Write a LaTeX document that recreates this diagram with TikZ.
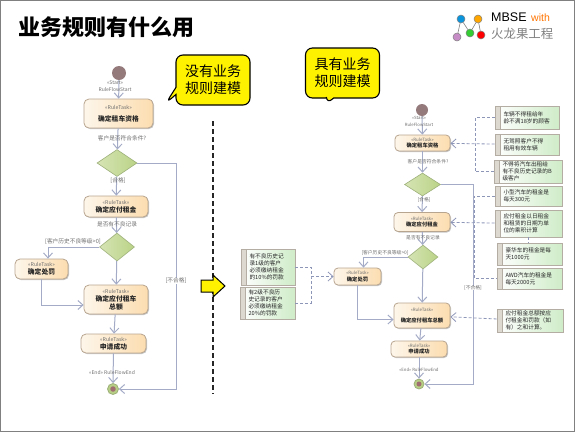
\documentclass[tikz,border=0pt]{standalone}
\usepackage{fontspec}
\setmainfont{Noto Sans CJK SC}
\newfontfamily\logofont{Liberation Sans}
\usetikzlibrary{arrows.meta, shapes.geometric, shapes.callouts, shadows}
\definecolor{flowline}{HTML}{A3ABC6}
\definecolor{duskline}{HTML}{8E96B8}
\definecolor{taskedge}{HTML}{B8A590}
\definecolor{taskleft}{HTML}{FDF6EA}
\definecolor{taskright}{HTML}{FCDDB0}
\definecolor{noteedge}{HTML}{B4ADA4}
\definecolor{noteright}{HTML}{CFECC8}
\definecolor{noteband}{HTML}{DDD8D0}
\definecolor{labelgray}{HTML}{6E6E6E}
\definecolor{startfill}{HTML}{957A7C}
\definecolor{gateedge}{HTML}{9DB07A}
\definecolor{gateleft}{HTML}{D6E4B4}
\definecolor{gateright}{HTML}{BAD387}
\definecolor{endfill}{HTML}{B7CF85}
\tikzset{
    taskbox/.style={draw=taskedge,line width=0.8pt,rounded corners=5pt,left color=taskleft,right color=taskright,
        align=center,inner sep=0pt,text=black!85,font=\fontsize{7}{8}\selectfont,
        drop shadow={shadow xshift=1pt,shadow yshift=-1pt,fill=black!45}},
    tasksmall/.style={taskbox,rounded corners=4pt,font=\fontsize{5}{6.2}\selectfont},
    gatebox/.style={diamond,draw=gateedge,line width=0.6pt,left color=gateleft,right color=gateright,inner sep=0pt},
    notebox/.style 2 args={draw=noteedge,line width=0.9pt,minimum width=#1,minimum height=#2,text width=#1-2pt,inner xsep=1pt,inner ysep=0pt,
        left color=white,right color=noteright,text=black!85,font=\fontsize{5.7}{7.2}\selectfont,
        execute at begin node={\raggedright\leftskip=7.5pt},
        drop shadow={shadow xshift=0.8pt,shadow yshift=-0.8pt,fill=black!30},
        path picture={\fill[noteband] (path picture bounding box.north west) rectangle ([xshift=5.5pt]path picture bounding box.south west);
            \draw[noteedge,line width=0.9pt] ([xshift=5.5pt]path picture bounding box.north west) -- ([xshift=5.5pt]path picture bounding box.south west);}},
    flow/.style={draw=flowline,line width=1pt,-{Straight Barb[length=5pt,width=9pt]}},
    rule/.style={draw=duskline,line width=0.8pt,dashed,dash pattern=on 3pt off 2pt},
    flowtext/.style={text=labelgray,inner sep=0pt,font=\fontsize{5.7}{6.5}\selectfont},
    smalltext/.style={text=labelgray,inner sep=0pt,font=\fontsize{4.8}{6.5}\selectfont},
    markbig/.style={text=labelgray,inner sep=0pt,font=\fontsize{5}{6}\selectfont},
    marksmall/.style={text=labelgray,inner sep=0pt,font=\fontsize{4.3}{5}\selectfont},
    bubble/.style={rectangle callout,draw=black,line width=1.1pt,rounded corners=7pt,fill=yellow,align=center,inner sep=0pt,
        font=\fontsize{14}{17}\selectfont,minimum width=74pt,minimum height=50pt},
    startdot/.style={circle,fill=startfill,inner sep=0pt},
    enddot/.style={circle,draw=gateedge,line width=0.8pt,fill=endfill,inner sep=0pt},
    endcore/.style={circle,fill=startfill!90!red,inner sep=0pt},
    logodot/.style={circle,draw=black!50,line width=0.5pt,minimum size=8pt,inner sep=0pt},
}
\newcommand{\bigline}[1]{\fontsize{6.8}{8}\selectfont\bfseries #1}
\newcommand{\smallline}[1]{\fontsize{5.3}{6}\selectfont\bfseries #1}
\newcommand{\bigtask}[2][0pt]{{\fontsize{5.2}{6}\selectfont\color{labelgray}«RuleTask»}\\[#1]\bigline{#2}}
\newcommand{\smalltask}[2][0pt]{{\fontsize{4.4}{5}\selectfont\color{labelgray}«RuleTask»}\\[#1]\smallline{#2}}
\begin{document}
\begin{tikzpicture}[x=1pt,y=-1pt]
    \useasboundingbox (0,0) rectangle (575,432);
    \draw[black!50,line width=1.2pt] (0.5,0.5) rectangle (574.5,431.3);
    \node[anchor=west,inner sep=0pt,font=\fontsize{22}{24}\selectfont\bfseries] (title) at (18,27) {业务规则有什么用};
    % 标志
    \node[logodot,fill=cyan!80!blue] (logoa) at (461,19) {};
    \node[logodot,fill=orange!70!yellow] (logob) at (478,19) {};
    \node[logodot,fill=violet!45!white] (logoc) at (457,37) {};
    \node[logodot,fill=green!60!gray] (logod) at (470,33) {};
    \node[logodot,fill=red] (logoe) at (481,35) {};
    \draw[black!50,line width=0.6pt] (logoc) -- (logoa) -- (logod) -- (logob) -- (logoe);
    \node[anchor=west,inner sep=0pt,font=\logofont\fontsize{12.5}{14}\selectfont] (logoname) at (491,17) {MBSE};
    \node[anchor=west,inner sep=0pt,text=orange!90!red,font=\logofont\fontsize{10.5}{12}\selectfont] (logowith) at (531,18) {with};
    \node[anchor=west,inner sep=0pt,text=black!50,font=\fontsize{12.4}{14}\selectfont] (logocn) at (491,34) {火龙果工程};
    % 气泡
    \node[bubble,callout absolute pointer={(166,103)}] (nomodel) at (213,80) {没有业务\\规则建模};
    \node[bubble,callout absolute pointer={(327,104)}] (hasmodel) at (342.5,73) {具有业务\\规则建模};
    % 分隔线
    \coordinate (divtop) at (213,121);
    \coordinate (divbot) at (213,394);
    \draw[black!85,line width=1.4pt,dash pattern=on 5pt off 3pt] (divtop) -- (divbot);
    \draw[black,line width=1pt,fill=yellow] (201,280) -- (213,280) -- (213,275) -- (225,286) -- (213,297) -- (213,292) -- (201,292) -- cycle;
    % 左边的流程
    \node[startdot,minimum size=14pt] (startl) at (119,73) {};
    \node[taskbox,minimum width=69pt,minimum height=29pt] (taskla) at (118.5,113.5) {\bigtask[4pt]{确定租车资格}};
    \node[gatebox,minimum width=40pt,minimum height=27pt] (gatela) at (117,163) {};
    \node[taskbox,minimum width=64pt,minimum height=21pt] (tasklb) at (116,206.5) {\bigtask{确定应付租金}};
    \node[gatebox,minimum width=35pt,minimum height=28pt] (gatelb) at (117,247) {};
    \node[taskbox,minimum width=53pt,minimum height=20pt] (tasklc) at (41.5,269) {\bigtask{确定处罚}};
    \node[taskbox,minimum width=64pt,minimum height=29pt] (taskld) at (116,299.5) {\bigtask{确定应付租车}\\\bigline{总额}};
    \node[taskbox,minimum width=65pt,minimum height=19pt] (taskle) at (113.5,343.5) {\bigtask{申请成功}};
    \node[enddot,minimum size=11pt] (endl) at (113,389) {};
    \node[endcore,minimum size=5.5pt] (endlcore) at (113,389) {};
    \coordinate (cornerl) at (176,389);
    \draw[flow] (startl) -- (taskla);
    \draw[flow] (taskla) -- (gatela);
    \draw[flow] (gatela) -- (tasklb);
    \draw[flow] (tasklb) -- (gatelb);
    \draw[flow] (gatelb.west) -| ([xshift=6.5pt]tasklc.north);
    \draw[flow] (gatelb) -- (taskld);
    \draw[flow] (tasklc.south) |- ([yshift=-5.5pt]taskld.west);
    \draw[flow] (taskld) -- (taskle);
    \draw[flow] (taskle) -- (endl);
    \draw[flow] (gatela.east) -| (cornerl) -- (endl);
    \node[markbig] (startla) at (115,83) {«Start»};
    \node[markbig] (startlb) at (115,90) {RuleFlowStart};
    \node[flowtext] (askla) at (122,138) {客户是否符合条件?};
    \node[flowtext] (passl) at (118,181) {[合格]};
    \node[flowtext] (asklb) at (117,224) {是否有不良记录};
    \node[flowtext] (levell) at (73,242) {[客户历史不良等级>0]};
    \node[flowtext,fill=white] (faill) at (176,281) {[不合格]};
    \node[markbig] (endla) at (112,373) {«End» RuleFlowEnd};
    % 右边的流程
    \node[startdot,minimum size=12pt] (startr) at (422,110) {};
    \node[tasksmall,minimum width=55pt,minimum height=16pt] (taskra) at (422.5,143) {\smalltask{确定租车资格}};
    \node[gatebox,minimum width=36pt,minimum height=23pt] (gatera) at (422.5,184.5) {};
    \node[tasksmall,minimum width=56pt,minimum height=19pt] (taskrb) at (422,222) {\smalltask{确定应付租金}};
    \node[gatebox,minimum width=30pt,minimum height=24pt] (gaterb) at (423,257) {};
    \node[tasksmall,minimum width=47pt,minimum height=17pt] (taskrc) at (357.5,276.5) {\smalltask{确定处罚}};
    \node[tasksmall,minimum width=56pt,minimum height=25pt] (taskrd) at (422,315.5) {\smalltask[5pt]{确定应付租车总额}};
    \node[tasksmall,minimum width=56pt,minimum height=16pt] (taskre) at (419,349) {\smalltask{申请成功}};
    \node[enddot,minimum size=10pt] (endr) at (419,384) {};
    \node[endcore,minimum size=5pt] (endrcore) at (419,384) {};
    \coordinate (cornerr) at (473.5,384);
    \draw[flow] (startr) -- (taskra);
    \draw[flow] (taskra) -- (gatera);
    \draw[flow] (gatera) -- (taskrb);
    \draw[flow] (taskrb) -- (gaterb);
    \draw[flow] (gaterb.west) -| ([xshift=6pt]taskrc.north);
    \draw[flow] (gaterb) -- (taskrd);
    \draw[flow] (taskrc.south) |- ([yshift=-4pt]taskrd.west);
    \draw[flow] (taskrd) -- (taskre);
    \draw[flow] (taskre) -- (endr);
    \draw[flow] (gatera.east) -| (cornerr) -- (endr);
    \node[marksmall] (startra) at (419,118) {«Start»};
    \node[marksmall] (startrb) at (419,124.5) {RuleFlowStart};
    \node[smalltext] (askra) at (428,162) {客户是否符合条件?};
    \node[smalltext] (passr) at (424,200) {[合格]};
    \node[smalltext] (askrb) at (423,238) {是否有不良记录};
    \node[smalltext] (levelr) at (385,253) {[客户历史不良等级>0]};
    \node[smalltext,fill=white] (failr) at (473,288) {[不合格]};
    \node[marksmall] (endra) at (419,370) {«End» RuleFlowEnd};
    % 规则说明
    \foreach \n/\cx/\cy/\w/\h/\txt in {
        notea/527/117.5/64/23/{车辆不得租给年\\龄不满18岁的顾客},
        noteb/527/144.5/64/21/{无驾照客户不得\\租用有效车辆},
        notec/528/171.5/68/23/{不得将汽车出租给\\有不良历史记录的B\\级客户},
        noted/528.5/196/67/20/{小型汽车的租金是\\每天300元},
        notee/528.5/223.5/67/27/{应付租金以日租金\\和租赁的日期为单\\位的乘积计算},
        notef/529.5/254/65/22/{豪华车的租金是每\\天1000元},
        noteg/529.5/278.5/65/21/{AWD汽车的租金是\\每天2000元},
        noteh/530/320.5/66/23/{应付租金总额按应\\付租金和罚款（如\\有）之和计算。},
        notei/268/267/54/36/{有不良历史记\\录1级的客户\\必须缴纳租金\\的10\%的罚款},
        notej/267.5/303/55/32/{有2级不良历\\史记录的客户\\必须缴纳租金\\20\%的罚款}} {
        \node[notebox={\w}{\h}] (\n) at (\cx,\cy) {\txt};
    }
    \coordinate (busa) at (475,143);
    \coordinate (busb) at (474,222);
    \coordinate (busc) at (311,276.5);
    \draw[rule] (notea.west) -| (busa) |- (notec.west);
    \draw[rule] (noted.west) -| (busb) |- (noteg.west);
    \draw[rule] (notei.east) -| (busc) |- (notej.east);
    \draw[rule] (notee.south) -- (notef.north -| notee.south);
    \foreach \a/\b in {noteb/taskra,notee/taskrb,noteh/taskrd,busc/taskrc} {
        \draw[rule,-{Straight Barb[length=5pt,width=9pt]}] (\a) -- (\b);
    }
\end{tikzpicture}
\end{document}
